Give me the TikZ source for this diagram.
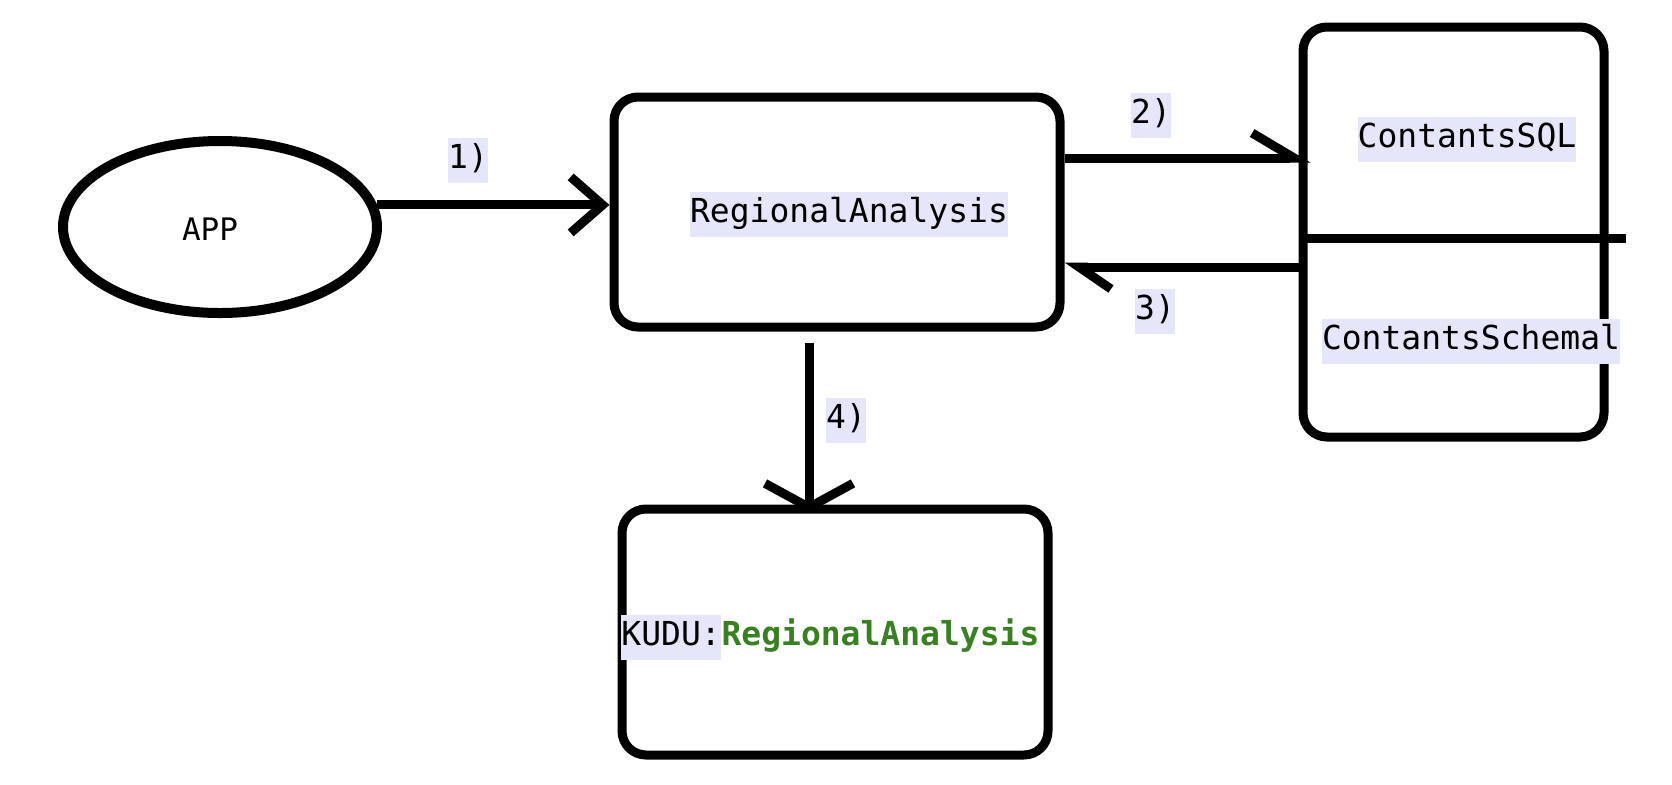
\documentclass[tikz,border=0pt]{standalone}
\usepackage{fontspec}
\setmonofont{DejaVu Sans Mono}
\usetikzlibrary{arrows.meta,positioning,shapes.geometric}
\definecolor{lav}{RGB}{230,230,250}
\definecolor{kgreen}{RGB}{56,128,34}
\newcommand\monofs{\ttfamily\fontsize{16.5}{20}\selectfont}
\tikzset{
	box/.style={draw=black, line width=4.5pt, rounded corners=12pt, inner sep=0pt},
	hl/.style={fill=lav, inner xsep=0pt, inner ysep=2.5pt, text height=13pt, text depth=4.5pt, font=\monofs},
	flow/.style={draw=black, line width=4.5pt},
}
\begin{document}
\begin{tikzpicture}[x=0.5pt, y=-0.5pt]
	\useasboundingbox[fill=white] (0,0) rectangle (1672,784);
	\node[draw=black, line width=5pt, ellipse, minimum width=157pt, minimum height=86pt,
		label={[font=\ttfamily\fontsize{15.5}{19}\selectfont, xshift=-5pt, yshift=-1pt]center:APP}] (app) at (220,227) {};
	\node[box, minimum width=223pt, minimum height=115pt] (ra) at (837,212) {};
	\node[box, minimum width=150.5pt, minimum height=205pt] (db) at (1453.5,232) {};
	\node[box, minimum width=213pt, minimum height=123pt] (kudu) at (835,632) {};
	\node[hl] (ralbl) at (849,214) {RegionalAnalysis};
	\node[hl] (sqllbl) at (1467,139) {ContantsSQL};
	\node[hl] (schlbl) at (1471,341) {ContantsSchemal};
	\node[hl, anchor=west] (kudulbl) at (621,637) {KUDU:};
	\node[hl, fill=none, text=kgreen, font=\monofs\bfseries, right=0pt of kudulbl] (kuduname) {RegionalAnalysis};
	\draw[flow] ([yshift=-3pt]db.west) -- ([yshift=-3pt, xshift=8.5pt]db.east);
	\draw[flow, -{Straight Barb[length=16pt, width=28pt]}] (app.8) -- (app.8 -| ra.west);
	\draw[flow, -{Straight Barb[harpoon, length=21pt, width=25pt]}, shorten >=-6pt] ([yshift=27pt]ra.east) -- ([yshift=27pt]ra.east -| db.west);
	\draw[flow, -{Straight Barb[harpoon, length=16pt, width=22pt]}] ([yshift=-27.5pt]ra.east -| db.west) -- ([yshift=-27.5pt]ra.east);
	\draw[flow, -{Straight Barb[length=12pt, width=44pt]}, shorten <=5.5pt, shorten >=-4pt] ([xshift=-14pt]ra.south) -- ([xshift=-14pt]ra.south |- kudu.north);
	\node[hl] (s1) at (468,160) {1)};
	\node[hl] (s2) at (1151,115) {2)};
	\node[hl] (s3) at (1155,311) {3)};
	\node[hl] (s4) at (846,420) {4)};
\end{tikzpicture}
\end{document}
